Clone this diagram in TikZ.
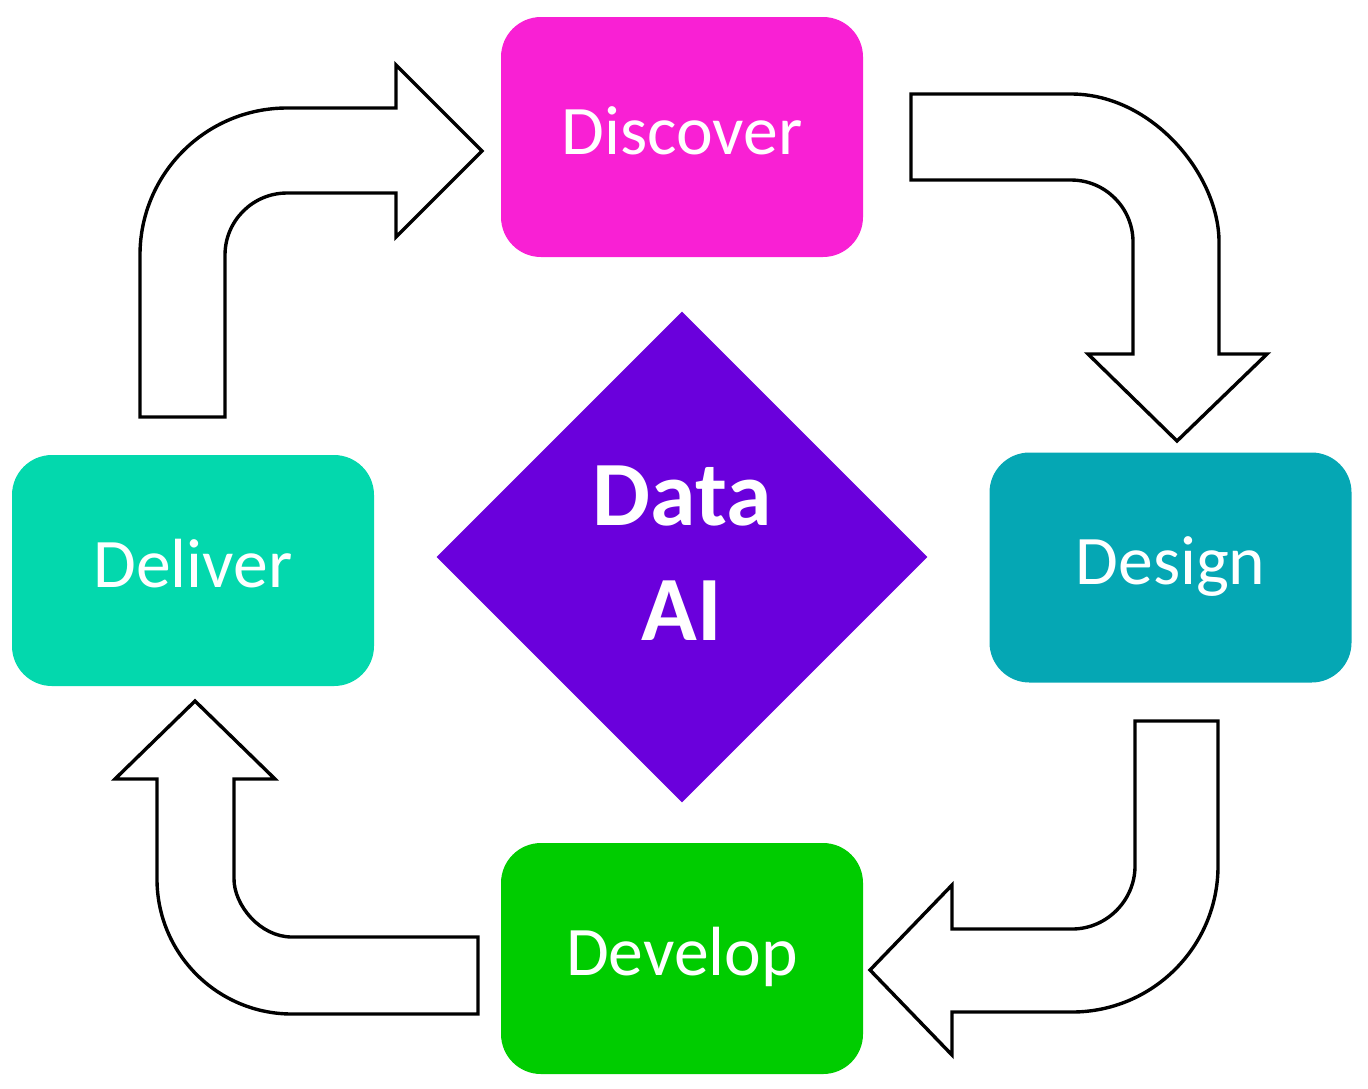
\documentclass[tikz,border=0pt]{standalone}
\usepackage{fontspec}
\setmainfont{Carlito}
\usetikzlibrary{shapes.geometric}
\definecolor{cDiscover}{HTML}{F920D4}
\definecolor{cDesign}{HTML}{05A7B4}
\definecolor{cDeliver}{HTML}{03D8AD}
\definecolor{cDevelop}{HTML}{00CC00}
\definecolor{cCore}{HTML}{6A00DC}
\begin{document}
\begin{tikzpicture}[x=0.5pt,y=-0.5pt,
  stage/.style={rectangle, rounded corners=20pt, draw=none, inner sep=0pt,
    text=white, font=\fontsize{34.8}{42}\selectfont,
    text height=25pt, text depth=8pt, minimum width=181pt},
  core/.style={diamond, fill=cCore, draw=none, inner sep=0pt, aspect=1,
    minimum width=245.5pt, minimum height=245.5pt},
  coretext/.style={text=white, align=center, inner sep=0pt,
    font=\fontsize{46}{57.5}\selectfont\bfseries},
  blockarrow/.style={draw=black, fill=white, line width=1.7pt, line join=miter}]
\useasboundingbox (0,0) rectangle (1368,1088);

% stages
\node[stage, fill=cDiscover, minimum height=120pt] (discover) at (682,137) {Discover};
\node[stage, fill=cDesign, minimum height=115pt] (design) at (1170.5,567.5) {Design};
\node[stage, fill=cDeliver, minimum height=115.5pt] (deliver) at (193,570.5) {Deliver};
\node[stage, fill=cDevelop, minimum height=115.5pt] (develop) at (682,958.5) {Develop};

% centre
\node[core] (core) at (682,557) {};
\node[coretext] (coretxt) at (682,553) {Data\\AI};

% bent block arrows
% Deliver -> Discover
\draw[blockarrow] (140,417) -- (140,255)
  .. controls (140,173.8) and (205.8,108) .. (287,108)
  -- (396,108) -- (396,65) -- (482,151) -- (396,237) -- (396,193) -- (287,193)
  .. controls (252.8,193) and (225,220.8) .. (225,255)
  -- (225,417) -- cycle;
% Discover -> Design
\draw[blockarrow] (911,94) -- (1071,94)
  .. controls (1152.7,94) and (1219,175.3) .. (1219,242)
  -- (1219,354) -- (1267,354) -- (1177,441) -- (1088,354) -- (1133,354) -- (1133,242)
  .. controls (1133,207.8) and (1105.2,180) .. (1071,180)
  -- (911,180) -- cycle;
% Design -> Develop
\draw[blockarrow] (1135,721) -- (1218,721) -- (1218,866)
  .. controls (1218,946.6) and (1152.6,1012) .. (1072,1012)
  -- (952,1012) -- (952,1055) -- (870,970) -- (952,885) -- (952,929) -- (1072,929)
  .. controls (1106.8,929) and (1135,900.2) .. (1135,866)
  -- cycle;
% Develop -> Deliver
\draw[blockarrow] (478,937) -- (292,937)
  .. controls (260,937) and (234,905) .. (234,879)
  -- (234,779) -- (275,779) -- (195,701) -- (115,779) -- (157,779) -- (157,879)
  .. controls (157,953.6) and (217.4,1014) .. (292,1014)
  -- (478,1014) -- cycle;
\end{tikzpicture}
\end{document}
